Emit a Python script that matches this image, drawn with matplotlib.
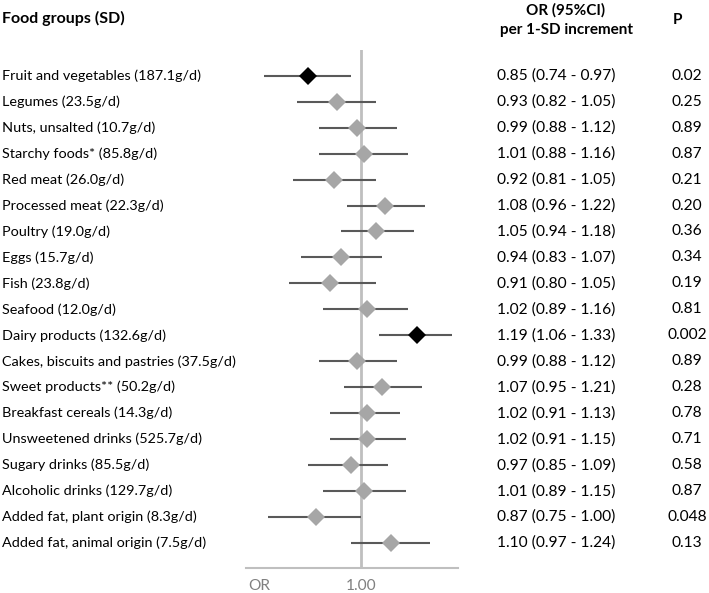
import matplotlib
matplotlib.use("Agg")
import matplotlib.pyplot as plt
import matplotlib.transforms as mtransforms

plt.rcParams['font.family'] = ['Lato', 'DejaVu Sans']

labels = [
    "Fruit and vegetables (187.1g/d)",
    "Legumes (23.5g/d)",
    "Nuts, unsalted (10.7g/d)",
    "Starchy foods* (85.8g/d)",
    "Red meat (26.0g/d)",
    "Processed meat (22.3g/d)",
    "Poultry (19.0g/d)",
    "Eggs (15.7g/d)",
    "Fish (23.8g/d)",
    "Seafood (12.0g/d)",
    "Dairy products (132.6g/d)",
    "Cakes, biscuits and pastries (37.5g/d)",
    "Sweet products** (50.2g/d)",
    "Breakfast cereals (14.3g/d)",
    "Unsweetened drinks (525.7g/d)",
    "Sugary drinks (85.5g/d)",
    "Alcoholic drinks (129.7g/d)",
    "Added fat, plant origin (8.3g/d)",
    "Added fat, animal origin (7.5g/d)",
]
or_vals = [0.85, 0.93, 0.99, 1.01, 0.92, 1.08, 1.05, 0.94, 0.91, 1.02,
           1.19, 0.99, 1.07, 1.02, 1.02, 0.97, 1.01, 0.87, 1.10]
ci_low = [0.74, 0.82, 0.88, 0.88, 0.81, 0.96, 0.94, 0.83, 0.80, 0.89,
          1.06, 0.88, 0.95, 0.91, 0.91, 0.85, 0.89, 0.75, 0.97]
ci_high = [0.97, 1.05, 1.12, 1.16, 1.05, 1.22, 1.18, 1.07, 1.05, 1.16,
           1.33, 1.12, 1.21, 1.13, 1.15, 1.09, 1.15, 1.00, 1.24]
p_vals = ["0.02", "0.25", "0.89", "0.87", "0.21", "0.20", "0.36", "0.34", "0.19", "0.81",
          "0.002", "0.89", "0.28", "0.78", "0.71", "0.58", "0.87", "0.048", "0.13"]
significant = [True, False, False, False, False, False, False, False, False, False,
               True, False, False, False, False, False, False, False, False]

W, H = 709, 593
fig = plt.figure(figsize=(W / 100, H / 100), dpi=100)
ax_l, ax_r = 245.7, 458.0
ax_t, ax_b = 50.0, 567.7
ax = fig.add_axes([ax_l / W, 1 - ax_b / H, (ax_r - ax_l) / W, (ax_b - ax_t) / H])

row0, step = 75.7, 25.96
ax.set_xscale('log')
ax.set_xlim(0.70, 1.353)
ax.set_ylim((ax_b - row0) / step, -(row0 - ax_t) / step)

ax.axvline(1.0, color='#BFBFBF', lw=2, zorder=1)
n = len(labels)
for i in range(n):
    ax.plot([ci_low[i], ci_high[i]], [i, i], color='#595959', lw=1.5, zorder=2,
            solid_capstyle='butt')
    ax.plot(or_vals[i], i, marker='D', ms=9,
            color='black' if significant[i] else '#A6A6A6',
            markeredgewidth=0, zorder=3)

for s in ['top', 'right', 'left']:
    ax.spines[s].set_visible(False)
ax.spines['bottom'].set_color('#BFBFBF')
ax.spines['bottom'].set_linewidth(1.5)
ax.set_xticks([])
ax.set_yticks([])
ax.minorticks_off()
ax.tick_params(which='both', length=0, labelbottom=False, labelleft=False)

trans = mtransforms.blended_transform_factory(fig.transFigure, ax.transData)
fs = 10.4
fs_num = 11.2
for i in range(n):
    ax.text(2 / W, i, labels[i], transform=trans, ha='left', va='center',
            fontsize=fs, color='black')
    ax.text(556 / W, i, f"{or_vals[i]:.2f} ({ci_low[i]:.2f} - {ci_high[i]:.2f})",
            transform=trans, ha='center', va='center', fontsize=fs_num, color='black')
    ax.text(687 / W, i, p_vals[i], transform=trans, ha='center', va='center',
            fontsize=fs_num, color='black')

fs_h = 11.5
fig.text(2 / W, 1 - 18 / H, "Food groups (SD)", ha='left', va='center',
         fontsize=fs_h, fontweight='bold')
fig.text(566 / W, 1 - 10 / H, "OR (95%CI)", ha='center', va='center',
         fontsize=fs_h - 0.5, fontweight='bold')
fig.text(566 / W, 1 - 30 / H, "per 1-SD increment", ha='center', va='center',
         fontsize=fs_h - 0.5, fontweight='bold')
fig.text(677 / W, 1 - 20 / H, "P", ha='center', va='center',
         fontsize=fs_h - 0.5, fontweight='bold')

fig.text(248 / W, 1 - 586 / H, "OR", ha='left', va='center', fontsize=fs_num, color='#808080')
fig.text(361 / W, 1 - 586 / H, "1.00", ha='center', va='center', fontsize=fs_num, color='#808080')

fig.savefig("out.png", dpi=100, facecolor='white')
